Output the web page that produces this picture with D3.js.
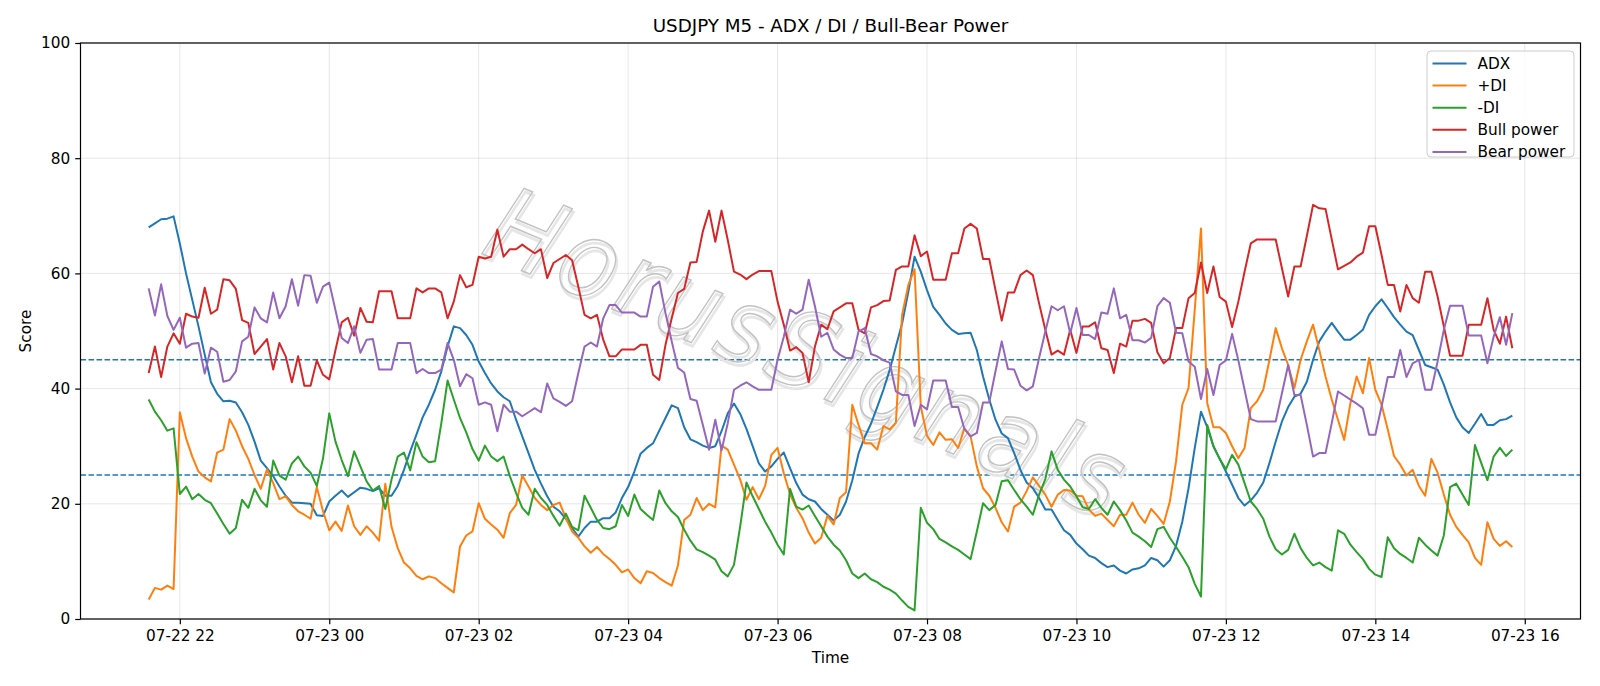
<!DOCTYPE html>
<html>
<head>
<meta charset="utf-8">
<script src="https://cdn.jsdelivr.net/npm/d3@7"></script>
<style>
  body { margin: 0; background: #fff; }
  text { font-family: "DejaVu Sans", sans-serif; }
</style>
</head>
<body>
<svg id="chart"></svg>
<script>
// M5 bars, first bar 07-22 21:35, one value per bar
var startTime = new Date(2025, 6, 22, 21, 35);
var stepMinutes = 5;

var adx = [68.0,68.7,69.4,69.5,69.9,65.2,60.0,55.4,50.8,45.9,41.1,39.1,37.8,37.9,37.6,35.9,33.7,30.8,27.5,26.2,
  24.8,23.0,21.4,20.2,20.2,20.1,20.0,18.0,17.9,20.4,21.4,22.3,21.2,22.0,22.8,22.6,22.2,22.7,
  21.4,21.4,23.1,25.9,29.1,32.0,35.0,37.2,39.8,43.0,47.3,50.8,50.5,49.3,47.6,44.7,42.7,40.9,39.5,38.5,
  37.8,34.6,31.7,28.8,25.9,23.5,21.3,19.5,18.7,17.4,15.8,14.3,15.8,16.9,16.9,17.5,
  17.5,18.5,21.0,22.9,25.6,28.7,29.7,30.5,32.7,34.9,37.1,36.6,33.3,31.2,30.7,30.1,29.7,30.0,32.6,35.7,
  37.4,35.6,33.0,30.0,27.0,25.6,26.5,27.8,28.9,26.2,23.6,21.6,20.8,20.4,19.1,18.1,17.1,
  18.1,20.4,24.1,28.7,31.6,33.9,36.8,39.8,43.2,47.3,51.3,56.8,62.9,60.3,57.1,54.2,52.8,51.3,50.2,49.5,
  49.6,49.7,46.7,42.1,38.1,34.6,32.2,31.4,28.8,25.9,23.7,22.7,21.0,19.0,19.0,17.2,15.4,
  14.6,13.1,12.1,11.0,10.6,9.7,9.0,9.3,8.4,7.9,8.6,8.8,9.3,10.6,10.2,9.1,10.2,12.7,16.9,22.7,
  29.7,36.0,33.3,30.0,27.8,25.6,23.3,21.0,19.7,20.6,21.9,23.7,27.1,30.8,34.3,36.8,38.6,
  39.1,41.2,45.0,48.2,49.9,51.4,49.9,48.5,48.5,49.3,50.2,52.8,54.3,55.5,54.0,52.4,51.1,49.9,49.3,46.7,
  44.1,43.7,43.3,40.7,37.6,35.0,33.3,32.3,33.9,35.6,33.7,33.7,34.5,34.7,35.3];

var plusDI = [3.4,5.4,5.1,5.8,5.2,35.9,31.4,28.2,25.6,24.6,23.9,28.9,29.4,34.7,32.7,30.0,27.8,25.0,22.6,26.0,
  23.6,20.8,21.3,19.8,18.7,18.1,17.4,22.9,18.7,15.4,16.9,15.3,19.7,16.1,14.6,16.1,15.0,13.6,
  23.5,16.0,12.3,9.8,8.8,7.5,6.9,7.4,7.1,6.2,5.4,4.6,12.6,14.5,15.2,20.1,17.4,16.4,15.5,14.1,
  18.4,19.8,24.9,23.0,21.0,19.8,18.9,19.8,20.2,17.5,15.2,14.1,12.6,11.5,12.5,11.3,
  10.4,9.4,8.1,8.6,7.1,6.2,8.3,8.0,7.1,6.4,5.8,9.3,17.2,18.1,21.0,18.9,20.0,19.4,30.1,29.4,
  26.8,24.2,20.7,22.9,20.8,23.1,28.5,29.7,25.3,21.7,19.3,17.5,15.0,13.1,14.1,17.9,16.4,
  21.0,22.0,37.2,33.7,30.5,30.5,29.4,33.5,32.9,34.1,52.8,58.0,60.7,36.9,31.8,30.2,32.4,31.1,31.2,29.7,
  33.1,31.7,26.5,22.7,21.4,19.3,16.8,15.2,19.5,20.2,22.2,24.6,23.1,21.6,19.5,21.6,22.4,
  22.3,21.4,21.3,19.0,17.9,18.3,17.2,16.1,18.1,18.1,20.2,18.1,16.7,19.1,17.9,16.5,20.4,27.4,37.2,40.1,
  53.7,67.8,37.5,33.3,33.3,32.3,30.0,27.9,29.7,36.6,37.8,39.8,45.0,50.5,47.0,44.1,40.1,
  45.0,48.2,51.1,46.7,42.1,38.1,34.6,31.1,37.5,42.1,39.2,45.3,39.8,37.2,32.9,28.3,26.8,24.9,25.9,23.1,
  21.4,27.8,25.4,21.6,18.1,16.0,14.6,13.3,10.6,9.4,16.8,13.9,12.7,13.5,12.5];

var minusDI = [38.1,36.0,34.5,32.7,33.1,21.7,23.0,20.8,21.7,20.7,20.1,18.3,16.5,14.8,15.8,20.7,19.3,22.6,20.6,19.5,
  27.5,24.9,24.2,27.0,28.2,26.5,25.4,23.1,27.9,35.7,30.8,27.6,24.8,29.1,26.5,23.9,22.3,23.1,
  19.1,24.2,28.2,28.9,25.8,30.7,28.2,27.2,27.4,34.0,41.4,38.1,34.9,32.4,29.5,27.5,30.1,28.2,27.4,28.2,
  24.8,21.9,19.3,18.1,22.6,21.0,19.8,17.9,16.2,18.3,16.0,15.4,21.4,19.3,17.2,15.8,
  15.6,16.1,19.8,17.9,21.6,19.1,18.1,17.2,22.3,20.1,18.7,17.7,15.5,13.6,12.1,11.6,11.0,10.3,8.3,7.4,
  9.4,16.1,23.7,21.3,19.1,16.9,15.0,12.9,11.2,22.6,19.5,19.0,19.7,17.9,16.1,14.3,12.9,
  11.9,10.2,7.9,7.1,7.9,6.9,6.4,5.6,5.1,4.4,3.2,2.1,1.5,19.3,16.7,15.6,13.9,13.3,12.6,12.0,
  11.2,10.4,15.2,20.1,18.9,19.8,23.9,24.1,22.4,20.8,19.5,18.1,21.6,24.3,29.1,25.9,24.2,
  23.0,21.3,19.4,19.1,20.8,19.3,18.1,20.4,18.9,17.1,15.0,14.3,13.5,12.5,15.6,16.0,14.1,12.5,10.8,9.0,
  6.1,3.9,33.7,30.0,27.8,26.0,28.5,26.8,23.6,20.4,19.1,17.4,14.3,12.1,11.2,12.0,14.8,
  12.3,10.6,9.3,9.8,9.0,8.4,15.4,14.8,12.9,11.6,10.4,8.7,7.7,7.3,14.2,12.3,11.3,10.6,9.8,14.1,
  12.9,11.9,11.0,14.5,22.9,23.5,21.6,19.8,30.2,27.1,24.1,28.2,29.7,28.3,29.4];

var bullPower = [42.7,47.3,42.0,47.3,49.6,47.8,53.0,52.5,52.3,57.5,53.0,53.7,59.0,58.8,57.3,51.9,51.4,46.0,47.3,48.6,
  43.3,47.9,45.6,41.1,45.6,40.5,40.5,44.9,42.4,41.6,46.7,51.5,52.3,49.2,54.0,51.6,51.5,56.9,
  56.9,56.9,52.2,52.2,52.2,57.4,56.7,57.4,57.4,56.7,52.2,55.1,59.7,57.6,58.0,62.9,62.6,62.9,67.6,62.9,
  64.2,64.2,65.0,64.2,63.5,64.2,59.2,61.8,62.5,63.2,62.3,57.7,52.8,52.2,52.8,48.5,
  45.6,45.6,46.8,46.8,46.8,47.6,47.6,42.4,41.5,47.6,52.2,56.6,57.3,61.9,62.0,67.3,70.9,65.5,70.9,65.8,
  60.3,59.8,59.0,59.8,60.4,60.4,60.4,55.1,51.1,46.6,47.2,46.2,41.1,47.3,51.1,50.3,53.4,
  54.1,54.8,54.8,50.2,49.6,54.1,54.5,55.2,55.3,60.6,61.2,61.2,66.6,63.0,63.8,58.9,58.9,58.9,63.5,63.5,
  67.8,68.6,67.8,62.5,62.5,57.1,51.8,56.7,56.7,59.7,60.5,59.7,54.8,50.2,45.9,46.6,45.9,
  50.2,46.2,50.8,50.8,51.5,47.0,46.7,42.7,47.8,47.3,51.8,51.8,52.1,51.4,46.3,44.4,45.3,50.5,50.5,55.7,
  56.6,61.9,56.6,61.2,55.9,55.1,50.7,55.1,60.3,65.2,65.9,65.9,65.9,65.9,60.9,56.0,61.2,
  61.2,66.5,71.9,71.3,71.2,65.9,60.7,61.3,61.9,62.9,63.6,68.2,68.2,63.2,58.0,58.0,53.4,58.0,55.7,54.9,
  60.3,60.3,56.0,50.8,45.7,45.7,45.7,51.1,51.1,51.1,55.7,50.2,47.8,52.5,47.0];

var bearPower = [57.4,52.7,58.1,52.6,50.2,52.3,47.1,47.8,47.9,42.6,47.1,46.4,41.2,41.5,43.0,48.2,49.0,54.1,52.2,51.5,
  56.7,52.2,54.3,59.0,54.4,59.7,59.6,54.9,57.7,58.4,53.6,48.8,47.9,50.8,46.2,48.5,48.6,43.3,
  43.3,43.3,47.9,47.9,47.9,42.7,43.4,42.7,42.7,43.3,47.9,45.0,40.4,42.5,41.8,37.2,37.6,37.2,32.6,37.2,
  36.0,36.0,35.2,35.9,36.6,35.9,40.9,38.3,37.7,37.0,37.8,42.7,47.3,48.0,47.3,52.2,
  54.5,54.5,53.2,53.2,53.2,52.5,52.5,57.7,58.6,53.1,48.2,43.6,42.8,38.2,37.9,33.7,29.4,34.6,29.3,34.0,
  39.8,40.5,41.1,40.4,39.8,39.8,39.8,45.0,49.0,53.7,53.0,53.7,58.9,54.3,49.0,49.7,46.8,
  45.9,45.3,45.3,49.9,50.5,46.0,45.6,44.9,44.5,39.5,38.9,38.9,33.5,37.2,36.4,41.4,41.4,41.4,36.8,36.8,
  33.0,31.7,32.3,37.6,37.6,43.0,48.2,43.4,43.3,40.5,39.7,40.4,45.3,49.9,54.3,53.6,54.3,
  49.6,54.0,49.3,49.3,48.6,53.2,53.0,57.4,52.2,52.8,48.4,48.4,48.0,48.8,54.3,55.7,54.9,49.7,49.6,44.7,
  43.8,38.2,43.4,38.9,44.1,44.9,49.5,44.9,39.8,34.7,34.3,34.3,34.3,34.3,39.2,44.1,38.9,
  38.9,33.7,28.2,28.8,28.8,34.0,39.5,38.8,38.1,37.4,36.6,32.0,32.0,36.9,42.0,42.0,46.7,42.0,44.4,45.0,
  39.8,39.8,44.7,50.2,54.4,54.4,54.4,49.2,49.2,49.2,44.4,49.0,52.4,47.6,53.1];

var seriesNames = ["ADX", "+DI", "-DI", "Bull power", "Bear power"];
var seriesColors = ["#1f77b4", "#ff7f0e", "#2ca02c", "#d62728", "#9467bd"];
var levels = [25, 45];
var yTicks = [0, 20, 40, 60, 80, 100];

var width = 1600, height = 686;
var margin = {left: 80.5, right: 19.5, top: 43, bottom: 67};
var svg = d3.select("#chart").attr("width", width).attr("height", height);

var times = adx.map(function (d, i) {
    return d3.timeMinute.offset(startTime, i * stepMinutes);
});
var t0 = times[0].getTime(), t1 = times[times.length - 1].getTime();
var pad = (t1 - t0) * 0.05;

var x = d3.scaleTime()
    .domain([new Date(t0 - pad), new Date(t1 + pad)])
    .range([margin.left, width - margin.right]);
var y = d3.scaleLinear()
    .domain([0, 100])
    .range([height - margin.bottom, margin.top]);

var xTicks = d3.timeHour.every(2).range(x.domain()[0], x.domain()[1]);

// grid
var grid = svg.append("g").attr("class", "grid");
grid.selectAll("line.gx")
    .data(xTicks)
    .enter().append("line")
    .attr("x1", function (d) { return x(d); })
    .attr("x2", function (d) { return x(d); })
    .attr("y1", margin.top)
    .attr("y2", height - margin.bottom)
    .style("stroke", "#b0b0b0").style("stroke-opacity", 0.3).style("stroke-width", 1);
grid.selectAll("line.gy")
    .data(yTicks)
    .enter().append("line")
    .attr("x1", margin.left)
    .attr("x2", width - margin.right)
    .attr("y1", function (d) { return y(d); })
    .attr("y2", function (d) { return y(d); })
    .style("stroke", "#b0b0b0").style("stroke-opacity", 0.3).style("stroke-width", 1);

// reference levels
svg.append("g").selectAll("line")
    .data(levels)
    .enter().append("line")
    .attr("x1", margin.left)
    .attr("x2", width - margin.right)
    .attr("y1", function (d) { return y(d); })
    .attr("y2", function (d) { return y(d); })
    .style("stroke", "#1f77b4")
    .style("stroke-width", 1.5)
    .style("stroke-dasharray", "5.6,2.4");

// watermark
var wm = svg.append("g")
    .attr("transform", "translate(806,360) rotate(23) scale(1,1.12)");
wm.append("text")
    .attr("text-anchor", "middle")
    .attr("dominant-baseline", "middle")
    .attr("x", 2.5).attr("y", 2.5)
    .style("font-size", "94px")
    .style("font-style", "italic")
    .style("letter-spacing", "6px")
    .style("fill", "none")
    .style("stroke", "#e6e6e6")
    .style("stroke-width", 2.5)
    .text("HorusSignals");
wm.append("text")
    .attr("text-anchor", "middle")
    .attr("dominant-baseline", "middle")
    .style("font-size", "94px")
    .style("font-style", "italic")
    .style("letter-spacing", "6px")
    .style("fill", "none")
    .style("stroke", "#c2c2c2")
    .style("stroke-width", 1.3)
    .text("HorusSignals");

// lines
var allSeries = [adx, plusDI, minusDI, bullPower, bearPower];
var line = d3.line()
    .x(function (d, i) { return x(times[i]); })
    .y(function (d) { return y(d); });

svg.append("g").attr("class", "lines")
    .selectAll("path")
    .data(allSeries)
    .enter().append("path")
    .attr("d", function (d) { return line(d); })
    .style("fill", "none")
    .style("stroke", function (d, i) { return seriesColors[i]; })
    .style("stroke-width", 2)
    .style("stroke-linejoin", "round");

// axes
var xAxis = d3.axisBottom(x)
    .tickValues(xTicks)
    .tickFormat(d3.timeFormat("%m-%d %H"))
    .tickSize(5.3)
    .tickPadding(6);
var yAxis = d3.axisLeft(y)
    .tickValues(yTicks)
    .tickSize(5.3)
    .tickPadding(5);

var gx = svg.append("g")
    .attr("transform", "translate(0," + (height - margin.bottom) + ")")
    .call(xAxis);
var gy = svg.append("g")
    .attr("transform", "translate(" + margin.left + ",0)")
    .call(yAxis);
[gx, gy].forEach(function (g) {
    g.select(".domain").remove();
    g.selectAll("text").style("font-size", "15.3px").style("fill", "#000");
    g.selectAll("line").style("stroke", "#000").style("stroke-width", 1.2);
});

// frame
svg.append("rect")
    .attr("x", margin.left)
    .attr("y", margin.top)
    .attr("width", width - margin.left - margin.right)
    .attr("height", height - margin.top - margin.bottom)
    .style("fill", "none")
    .style("stroke", "#000")
    .style("stroke-width", 1.2);

// labels
svg.append("text")
    .attr("x", (margin.left + width - margin.right) / 2)
    .attr("y", 32)
    .attr("text-anchor", "middle")
    .style("font-size", "18.3px")
    .text("USDJPY M5 - ADX / DI / Bull-Bear Power");
svg.append("text")
    .attr("x", (margin.left + width - margin.right) / 2)
    .attr("y", 663)
    .attr("text-anchor", "middle")
    .style("font-size", "15.3px")
    .text("Time");
svg.append("text")
    .attr("transform", "translate(31," + ((margin.top + height - margin.bottom) / 2) + ") rotate(-90)")
    .attr("text-anchor", "middle")
    .style("font-size", "15.3px")
    .text("Score");

// legend
var legend = svg.append("g").attr("transform", "translate(1427,51)");
legend.append("rect")
    .attr("width", 147)
    .attr("height", 106)
    .attr("rx", 4)
    .style("fill", "#fff")
    .style("fill-opacity", 0.8)
    .style("stroke", "#cccccc")
    .style("stroke-width", 1);
var item = legend.selectAll("g.item")
    .data(seriesNames)
    .enter().append("g")
    .attr("transform", function (d, i) { return "translate(0," + (12.5 + i * 22.1) + ")"; });
item.append("line")
    .attr("x1", 5.5).attr("x2", 39.5)
    .style("stroke", function (d, i) { return seriesColors[i]; })
    .style("stroke-width", 2);
item.append("text")
    .attr("x", 50.5)
    .attr("dy", "0.35em")
    .style("font-size", "15.3px")
    .text(function (d) { return d; });
</script>
</body>
</html>
